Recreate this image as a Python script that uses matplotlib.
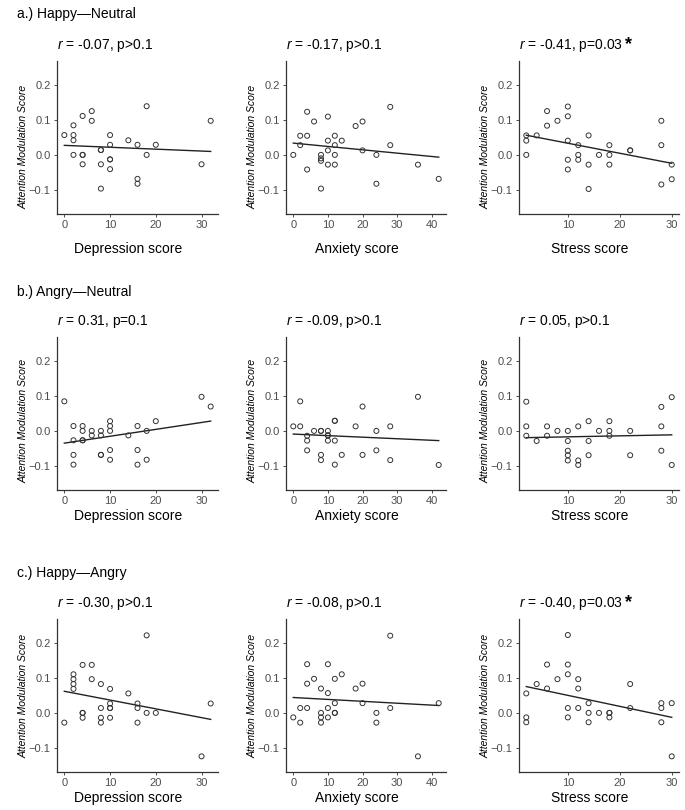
import numpy as np
import matplotlib
matplotlib.use("Agg")
import matplotlib.pyplot as plt

plt.rcParams['font.family'] = ['Liberation Sans', 'DejaVu Sans']
plt.rcParams['mathtext.fontset'] = 'custom'
plt.rcParams['mathtext.it'] = 'Liberation Sans:italic'
plt.rcParams['mathtext.rm'] = 'Liberation Sans'

# --- data ----------------------------------------------------------------
# a.) Happy - Neutral
hn_dep_x = [0, 2, 2, 2, 2, 4, 4, 4, 4, 6, 6, 8, 8, 8, 8, 10, 10, 10, 10, 10, 14, 16, 16, 16, 18, 18, 20, 30, 32]
hn_dep_y = [0.057, 0.085, 0.057, 0.042, 0.0, 0.112, 0.0, 0.0, -0.027, 0.126, 0.098, 0.014, 0.014, -0.027, -0.097,
            0.057, 0.029, -0.013, -0.013, -0.041, 0.042, 0.029, -0.069, -0.083, 0.140, 0.0, 0.029, -0.027, 0.098]
hn_anx_x = [0, 2, 2, 4, 4, 4, 6, 8, 8, 8, 8, 10, 10, 10, 10, 12, 12, 12, 12, 14, 18, 20, 20, 24, 24, 28, 28, 36, 42]
hn_anx_y = [0.0, 0.055, 0.028, 0.124, 0.055, -0.042, 0.096, 0.0, -0.010, -0.017, -0.097, 0.110, 0.041, 0.013, -0.028,
            0.055, 0.028, 0.0, -0.028, 0.041, 0.083, 0.096, 0.013, 0.0, -0.083, 0.138, 0.028, -0.028, -0.069]
hn_str_x = [2, 2, 2, 4, 6, 6, 8, 10, 10, 10, 10, 10, 12, 12, 12, 14, 14, 14, 16, 18, 18, 18, 22, 22, 28, 28, 28, 30, 30]
hn_str_y = [0.056, 0.041, 0.0, 0.056, 0.126, 0.084, 0.098, 0.139, 0.111, 0.041, -0.014, -0.042, 0.028, 0.0, -0.014,
            0.056, -0.028, -0.098, 0.0, 0.028, 0.0, -0.028, 0.013, 0.013, 0.098, 0.028, -0.085, -0.028, -0.070]

# b.) Angry - Neutral
an_dep_x = [0, 2, 2, 2, 2, 4, 4, 4, 4, 6, 6, 8, 8, 8, 8, 10, 10, 10, 10, 10, 14, 16, 16, 16, 18, 18, 20, 30, 32]
an_dep_y = [0.085, 0.014, -0.027, -0.069, -0.097, 0.014, 0.0, -0.027, -0.027, 0.0, -0.013, 0.0, -0.013, -0.069, -0.069,
            0.028, 0.014, 0.0, -0.055, -0.083, -0.013, 0.014, -0.055, -0.097, 0.0, -0.083, 0.028, 0.098, 0.070]
an_anx_x = [0, 2, 2, 4, 4, 4, 6, 8, 8, 8, 8, 10, 10, 10, 10, 12, 12, 12, 12, 14, 18, 20, 20, 24, 24, 28, 28, 36, 42]
an_anx_y = [0.013, 0.085, 0.013, -0.014, -0.028, -0.056, 0.0, 0.0, 0.0, -0.069, -0.084, 0.0, -0.013, -0.013, -0.028,
            0.029, 0.029, -0.028, -0.097, -0.069, 0.013, 0.070, -0.069, 0.0, -0.056, 0.013, -0.084, 0.098, -0.098]
an_str_x = [2, 2, 2, 4, 6, 6, 8, 10, 10, 10, 10, 10, 12, 12, 12, 14, 14, 14, 16, 18, 18, 18, 22, 22, 28, 28, 28, 30, 30]
an_str_y = [0.084, 0.013, -0.014, -0.029, 0.013, -0.014, 0.0, 0.0, -0.029, -0.057, -0.070, -0.085, 0.013, -0.085, -0.098,
            0.028, -0.029, -0.070, 0.0, 0.028, 0.0, -0.014, 0.0, -0.070, 0.069, 0.013, -0.057, 0.097, -0.098]

# c.) Happy - Angry
ha_dep_x = [0, 2, 2, 2, 2, 4, 4, 4, 6, 6, 8, 8, 8, 8, 10, 10, 10, 10, 10, 14, 16, 16, 16, 18, 18, 20, 30, 32, 4]
ha_dep_y = [-0.028, 0.111, 0.097, 0.083, 0.069, 0.138, 0.0, -0.014, 0.138, 0.097, 0.083, 0.014, -0.014, -0.028,
            0.069, 0.027, 0.014, 0.014, -0.014, 0.056, 0.027, 0.014, -0.028, 0.223, 0.0, 0.0, -0.125, 0.027, 0.0]
ha_anx_x = [0, 2, 2, 4, 4, 4, 6, 8, 8, 8, 8, 10, 10, 10, 10, 12, 12, 12, 12, 14, 18, 20, 20, 24, 24, 28, 28, 36, 42]
ha_anx_y = [-0.013, 0.014, -0.028, 0.140, 0.084, 0.014, 0.098, 0.070, 0.0, -0.013, -0.028, 0.140, 0.057, 0.014, -0.013,
            0.098, 0.028, 0.0, 0.0, 0.111, 0.070, 0.084, 0.028, 0.0, -0.028, 0.222, 0.014, -0.125, 0.028]
ha_str_x = [2, 2, 2, 4, 6, 6, 8, 10, 10, 10, 10, 10, 12, 12, 12, 14, 14, 14, 16, 18, 18, 18, 22, 22, 28, 28, 28, 30, 30]
ha_str_y = [0.056, -0.013, -0.027, 0.083, 0.139, 0.070, 0.097, 0.224, 0.139, 0.111, 0.014, -0.013, 0.097, 0.070, 0.014,
            0.028, 0.0, -0.027, 0.0, 0.0, 0.0, -0.013, 0.083, 0.014, 0.028, 0.014, -0.027, 0.028, -0.125]

row_labels = ['a.) Happy\u2014Neutral', 'b.) Angry\u2014Neutral', 'c.) Happy\u2014Angry']
x_labels = ['Depression score', 'Anxiety score', 'Stress score']
titles = [['-0.07, p>0.1', '-0.17, p>0.1', '-0.41, p=0.03'],
          ['0.31, p=0.1', '-0.09, p>0.1', '0.05, p>0.1'],
          ['-0.30, p>0.1', '-0.08, p>0.1', '-0.40, p=0.03']]
significant = [[False, False, True], [False, False, False], [False, False, True]]

panels = [[(hn_dep_x, hn_dep_y), (hn_anx_x, hn_anx_y), (hn_str_x, hn_str_y)],
          [(an_dep_x, an_dep_y), (an_anx_x, an_anx_y), (an_str_x, an_str_y)],
          [(ha_dep_x, ha_dep_y), (ha_anx_x, ha_anx_y), (ha_str_x, ha_str_y)]]

# --- layout (pixels of a 685 x 810 figure) --------------------------------
W, H = 685, 810
col_left = [57, 286, 519]
col_width = [161, 160, 160]
row_top = [61, 337, 619]
row_h = 153
xlabel_off = [35, 26, 26]
ylabel_y = [0.44, 0.45, 0.5]
row_label_y = [14, 292, 573]

fig = plt.figure(figsize=(W / 100, H / 100), dpi=100)
grey = '#4D4D4D'
dark = '#333333'

for r in range(3):
    fig.text(17 / W, 1 - row_label_y[r] / H, row_labels[r], fontsize=10, va='center', ha='left')
    for c in range(3):
        x, y = panels[r][c]
        x = np.array(x, dtype=float)
        y = np.array(y, dtype=float)
        ax = fig.add_axes([col_left[c] / W, 1 - (row_top[r] + row_h) / H, col_width[c] / W, row_h / H])
        ax.scatter(x, y, s=13, facecolors='none', edgecolors=dark, linewidths=0.7, zorder=3)
        k, b = np.polyfit(x, y, 1)
        xs = np.array([x.min(), x.max()])
        ax.plot(xs, k * xs + b, color='#222222', lw=1.0, zorder=2)

        span = x.max() - x.min()
        ax.set_xlim(x.min() - 0.05 * span, x.max() + 0.05 * span)
        ax.set_ylim(-0.17, 0.27)
        ax.set_yticks([-0.1, 0.0, 0.1, 0.2])
        ax.set_yticklabels(['\u22120.1', '0.0', '0.1', '0.2'])
        if c == 2:
            ax.set_xticks([10, 20, 30])
        else:
            ax.set_xticks(np.arange(0, x.max() + 1, 10))
        for s in ['top', 'right']:
            ax.spines[s].set_visible(False)
        for s in ['left', 'bottom']:
            ax.spines[s].set_color(dark)
            ax.spines[s].set_linewidth(0.9)
        ax.tick_params(labelsize=8, colors=grey, length=2.5, width=0.7, pad=2)

        ax.set_xlabel(x_labels[c], fontsize=10, va='center')
        ax.xaxis.set_label_coords(0.44, -xlabel_off[r] / row_h)
        ax.set_ylabel('Attention Modulation Score', fontsize=7.5, style='italic', va='center')
        ax.yaxis.set_label_coords(-33 / col_width[c], ylabel_y[r])

        t = ax.text(0, 1 + 15 / row_h, '$r$ = ' + titles[r][c], transform=ax.transAxes,
                    fontsize=10, ha='left', va='center')
        if significant[r][c]:
            ax.annotate('*', xy=(1, 1), xycoords=t, xytext=(1.5, -5), textcoords='offset points',
                        fontsize=13, fontweight='bold', ha='left', va='center')

fig.savefig('out.png', dpi=100)
